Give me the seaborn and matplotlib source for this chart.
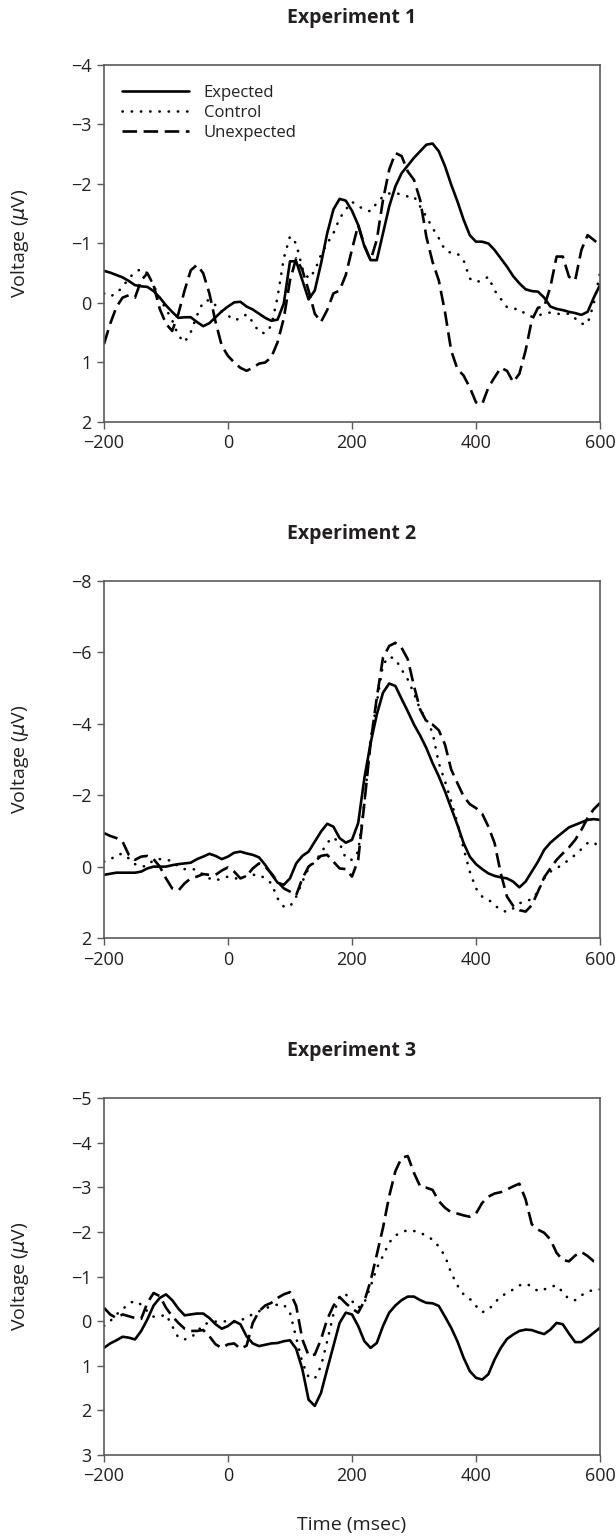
import numpy as np
import pandas as pd
import seaborn as sns
import matplotlib.pyplot as plt
from matplotlib import font_manager

# ----------------------------
# data (10 ms steps, voltage in microvolts)
# ----------------------------
time = np.arange(-200, 601, 10)
conditions = ["Expected", "Control", "Unexpected"]
titles = ["Experiment 1", "Experiment 2", "Experiment 3"]

exp1_expected = [-0.54, -0.51, -0.47, -0.43, -0.37, -0.30, -0.28, -0.27, -0.20, -0.09,
                 0.04, 0.15, 0.25, 0.24, 0.24, 0.32, 0.39, 0.34, 0.24, 0.14,
                 0.06, -0.01, -0.02, 0.06, 0.11, 0.18, 0.25, 0.30, 0.28, 0.01,
                 -0.70, -0.70, -0.38, -0.06, -0.21, -0.66, -1.17, -1.57, -1.75, -1.72,
                 -1.55, -1.31, -0.95, -0.72, -0.72, -1.17, -1.62, -1.96, -2.18, -2.31,
                 -2.44, -2.55, -2.66, -2.68, -2.55, -2.30, -1.99, -1.71, -1.40, -1.14,
                 -1.03, -1.03, -1.00, -0.89, -0.75, -0.61, -0.45, -0.33, -0.23, -0.20,
                 -0.19, -0.09, 0.06, 0.10, 0.12, 0.15, 0.17, 0.20, 0.15, -0.09,
                 -0.30]
exp1_control = [-0.16, -0.11, -0.16, -0.27, -0.41, -0.52, -0.57, -0.50, -0.30, -0.07,
                0.10, 0.29, 0.55, 0.66, 0.49, 0.21, -0.02, -0.05, 0.04, 0.14,
                0.21, 0.29, 0.26, 0.19, 0.32, 0.49, 0.51, 0.38, -0.10, -0.75,
                -1.12, -1.00, -0.58, -0.41, -0.54, -0.81, -1.00, -1.17, -1.42, -1.57,
                -1.70, -1.63, -1.57, -1.54, -1.68, -1.79, -1.84, -1.85, -1.82, -1.79,
                -1.79, -1.62, -1.45, -1.26, -1.09, -0.89, -0.84, -0.83, -0.72, -0.41,
                -0.35, -0.38, -0.44, -0.21, -0.07, 0.07, 0.10, 0.10, 0.19, 0.23,
                0.21, 0.18, 0.16, 0.18, 0.19, 0.18, 0.26, 0.35, 0.35, 0.01,
                -0.50]
exp1_unexpected = [0.69, 0.35, 0.07, -0.09, -0.13, -0.09, -0.38, -0.50, -0.30, 0.10,
                   0.35, 0.47, 0.18, -0.21, -0.55, -0.64, -0.50, -0.16, 0.32, 0.72,
                   0.89, 1.00, 1.09, 1.14, 1.09, 1.02, 1.00, 0.91, 0.66, 0.26,
                   -0.38, -0.75, -0.55, -0.21, 0.18, 0.32, 0.12, -0.16, -0.21, -0.47,
                   -0.90, -1.31, -0.97, -0.72, -1.06, -1.73, -2.24, -2.52, -2.47, -2.21,
                   -2.07, -1.73, -1.11, -0.69, -0.38, 0.15, 0.80, 1.11, 1.22, 1.42,
                   1.67, 1.70, 1.42, 1.25, 1.09, 1.14, 1.33, 1.19, 0.80, 0.29,
                   0.08, 0.06, -0.27, -0.78, -0.78, -0.44, -0.38, -0.89, -1.14, -1.06,
                   -0.97]

exp2_expected = [0.23, 0.20, 0.17, 0.17, 0.17, 0.17, 0.14, 0.05, 0.00, 0.00,
                 0.00, -0.04, -0.07, -0.09, -0.11, -0.21, -0.28, -0.36, -0.30, -0.21,
                 -0.28, -0.39, -0.42, -0.37, -0.33, -0.26, -0.05, 0.21, 0.45, 0.51,
                 0.33, -0.09, -0.30, -0.42, -0.70, -0.98, -1.20, -1.12, -0.80, -0.67,
                 -0.75, -1.22, -2.48, -3.46, -4.26, -4.87, -5.13, -5.06, -4.70, -4.35,
                 -3.98, -3.67, -3.32, -2.90, -2.53, -2.11, -1.64, -1.17, -0.66, -0.28,
                 -0.07, 0.07, 0.19, 0.26, 0.30, 0.33, 0.42, 0.58, 0.42, 0.14,
                 -0.14, -0.47, -0.67, -0.82, -0.96, -1.10, -1.17, -1.24, -1.31, -1.33,
                 -1.31]
exp2_control = [-0.14, -0.19, -0.33, -0.36, -0.23, -0.07, 0.00, -0.02, -0.19, -0.21,
                -0.19, -0.16, 0.00, 0.07, 0.06, 0.09, 0.23, 0.33, 0.39, 0.33,
                0.28, 0.33, 0.33, 0.26, 0.23, 0.23, 0.33, 0.47, 0.89, 1.12,
                1.12, 0.84, 0.42, 0.05, -0.14, -0.37, -0.67, -0.82, -0.66, -0.23,
                -0.19, -0.42, -1.78, -3.56, -4.59, -5.66, -5.88, -5.82, -5.52, -5.24,
                -4.85, -4.40, -4.12, -3.75, -2.90, -2.39, -1.83, -1.22, -0.51, 0.14,
                0.61, 0.84, 0.92, 1.08, 1.22, 1.27, 1.17, 1.03, 0.96, 0.92,
                0.70, 0.33, 0.14, 0.05, -0.07, -0.19, -0.33, -0.49, -0.66, -0.69,
                -0.51]
exp2_unexpected = [-0.94, -0.86, -0.80, -0.70, -0.33, -0.19, -0.28, -0.30, -0.21, 0.00,
                   0.33, 0.61, 0.67, 0.47, 0.33, 0.28, 0.21, 0.23, 0.23, 0.11,
                   0.02, 0.14, 0.33, 0.26, 0.05, -0.09, 0.00, 0.19, 0.42, 0.61,
                   0.70, 0.80, 0.33, 0.00, -0.14, -0.30, -0.33, -0.14, 0.05, 0.07,
                   0.28, -0.19, -1.78, -3.46, -4.73, -5.85, -6.18, -6.27, -6.13, -5.81,
                   -5.06, -4.40, -4.07, -3.98, -3.82, -3.42, -2.72, -2.34, -1.97, -1.75,
                   -1.64, -1.48, -1.12, -0.66, 0.19, 0.84, 1.10, 1.22, 1.26, 1.08,
                   0.70, 0.30, 0.05, -0.19, -0.37, -0.54, -0.75, -1.03, -1.36, -1.61,
                   -1.78]

exp3_expected = [0.60, 0.50, 0.43, 0.35, 0.37, 0.41, 0.22, -0.04, -0.35, -0.52,
                 -0.60, -0.47, -0.28, -0.13, -0.15, -0.17, -0.17, -0.07, 0.07, 0.17,
                 0.11, 0.00, 0.07, 0.34, 0.50, 0.56, 0.53, 0.50, 0.49, 0.45,
                 0.43, 0.62, 1.08, 1.76, 1.90, 1.61, 1.08, 0.56, 0.04, -0.19,
                 -0.15, 0.11, 0.45, 0.60, 0.49, 0.11, -0.19, -0.35, -0.47, -0.55,
                 -0.55, -0.47, -0.41, -0.40, -0.34, -0.10, 0.15, 0.45, 0.82, 1.12,
                 1.27, 1.31, 1.19, 0.86, 0.60, 0.40, 0.30, 0.22, 0.19, 0.20,
                 0.25, 0.29, 0.19, 0.04, 0.07, 0.28, 0.47, 0.47, 0.37, 0.26,
                 0.15]
exp3_control = [0.11, 0.00, -0.15, -0.26, -0.40, -0.45, -0.37, -0.22, -0.10, -0.10,
                -0.15, 0.11, 0.37, 0.41, 0.37, 0.25, 0.07, 0.04, 0.01, 0.00,
                0.01, 0.02, -0.02, -0.07, -0.16, -0.22, -0.28, -0.34, -0.37, -0.37,
                -0.19, 0.37, 0.93, 1.25, 1.29, 1.01, 0.45, -0.15, -0.56, -0.60,
                -0.45, -0.30, -0.41, -0.78, -1.19, -1.46, -1.76, -1.92, -1.99, -2.04,
                -2.02, -1.99, -1.90, -1.83, -1.67, -1.46, -1.08, -0.80, -0.60, -0.50,
                -0.34, -0.20, -0.25, -0.41, -0.55, -0.63, -0.71, -0.80, -0.84, -0.78,
                -0.67, -0.71, -0.77, -0.80, -0.65, -0.49, -0.47, -0.58, -0.65, -0.71,
                -0.71]
exp3_unexpected = [-0.30, -0.15, -0.07, -0.15, -0.11, -0.07, -0.05, -0.41, -0.63, -0.56,
                   -0.30, -0.11, 0.04, 0.17, 0.22, 0.22, 0.20, 0.34, 0.52, 0.60,
                   0.52, 0.50, 0.62, 0.55, 0.04, -0.22, -0.35, -0.41, -0.52, -0.60,
                   -0.65, -0.34, 0.41, 0.77, 0.75, 0.41, -0.04, -0.34, -0.54, -0.40,
                   -0.28, -0.19, -0.45, -0.90, -1.49, -2.09, -2.80, -3.36, -3.66, -3.70,
                   -3.32, -3.02, -2.99, -2.94, -2.69, -2.54, -2.44, -2.41, -2.37, -2.34,
                   -2.41, -2.65, -2.79, -2.86, -2.89, -2.95, -3.02, -3.08, -2.73, -2.17,
                   -2.05, -1.98, -1.83, -1.53, -1.37, -1.34, -1.47, -1.55, -1.46, -1.34,
                   -1.31]

panels = [
    (exp1_expected, exp1_control, exp1_unexpected),
    (exp2_expected, exp2_control, exp2_unexpected),
    (exp3_expected, exp3_control, exp3_unexpected),
]
ylims = [(2, -4), (2, -8), (3, -5)]
ytick_steps = [1, 2, 1]


# ----------------------------
# style: pick a humanist sans that also has a bold face installed
# ----------------------------
def has_bold(name):
    for e in font_manager.fontManager.ttflist:
        if e.name != name:
            continue
        w = e.weight if isinstance(e.weight, int) else font_manager.weight_dict.get(e.weight, 400)
        if w >= 600:
            return True
    return False


family = next((f for f in ["Open Sans", "Lato", "Noto Sans", "Roboto", "Liberation Sans"]
               if has_bold(f)), "DejaVu Sans")

sns.set_style("ticks")
plt.rcParams['font.family'] = [family, 'DejaVu Sans']
plt.rcParams['mathtext.fontset'] = 'dejavusans'

line_styles = {
    "Expected": dict(linestyle="-", lw=1.9),
    "Control": dict(linestyle=(0, (0.1, 3.4)), lw=1.9, dash_capstyle="round"),
    "Unexpected": dict(linestyle=(0, (5.5, 2.5)), lw=1.9),
}
spine_col = "#5a5a5a"
text_col = "#231f20"

fig = plt.figure(figsize=(6.16, 15.4), dpi=100)
bottoms = [0.7260, 0.3909, 0.0552]

for i, series in enumerate(panels):
    ax = fig.add_axes([0.1688, bottoms[i], 0.8052, 0.2318])
    df = pd.DataFrame({"time": np.tile(time, 3),
                       "voltage": np.concatenate(series),
                       "condition": np.repeat(conditions, len(time))})
    for cond in conditions:
        sub = df[df["condition"] == cond]
        sns.lineplot(data=sub, x="time", y="voltage", ax=ax, color="black",
                     label=cond, **line_styles[cond])

    lo, hi = ylims[i]
    ax.set_xlim(-200, 600)
    ax.set_ylim(lo, hi)
    ax.set_xticks([-200, 0, 200, 400, 600])
    ax.set_yticks(np.arange(hi, lo + 0.1, ytick_steps[i]))
    ax.tick_params(axis="both", direction="out", length=5, width=1,
                   color=spine_col, labelsize=13, labelcolor=text_col, pad=4)
    for s in ax.spines.values():
        s.set_color(spine_col)
        s.set_linewidth(1.2)

    ax.set_ylabel("Voltage ($\\mu$V)", fontsize=14, color=text_col)
    ax.yaxis.set_label_coords(-0.148, 0.5)
    if i == 2:
        ax.set_xlabel("Time (msec)", fontsize=14, color=text_col)
        ax.xaxis.set_label_coords(0.5, -0.172)
    else:
        ax.set_xlabel("")

    ax.text(0.5, 1.132, titles[i], transform=ax.transAxes, ha="center",
            va="center", fontsize=14, fontweight="bold", color=text_col)

    if i == 0:
        ax.legend(loc="upper left", bbox_to_anchor=(0.036, 0.945), frameon=False,
                  fontsize=12, handlelength=4.0, handletextpad=0.9,
                  labelspacing=0.25, borderaxespad=0, borderpad=0,
                  labelcolor=text_col)
    else:
        ax.get_legend().remove()

fig.savefig("out.png", dpi=100)
